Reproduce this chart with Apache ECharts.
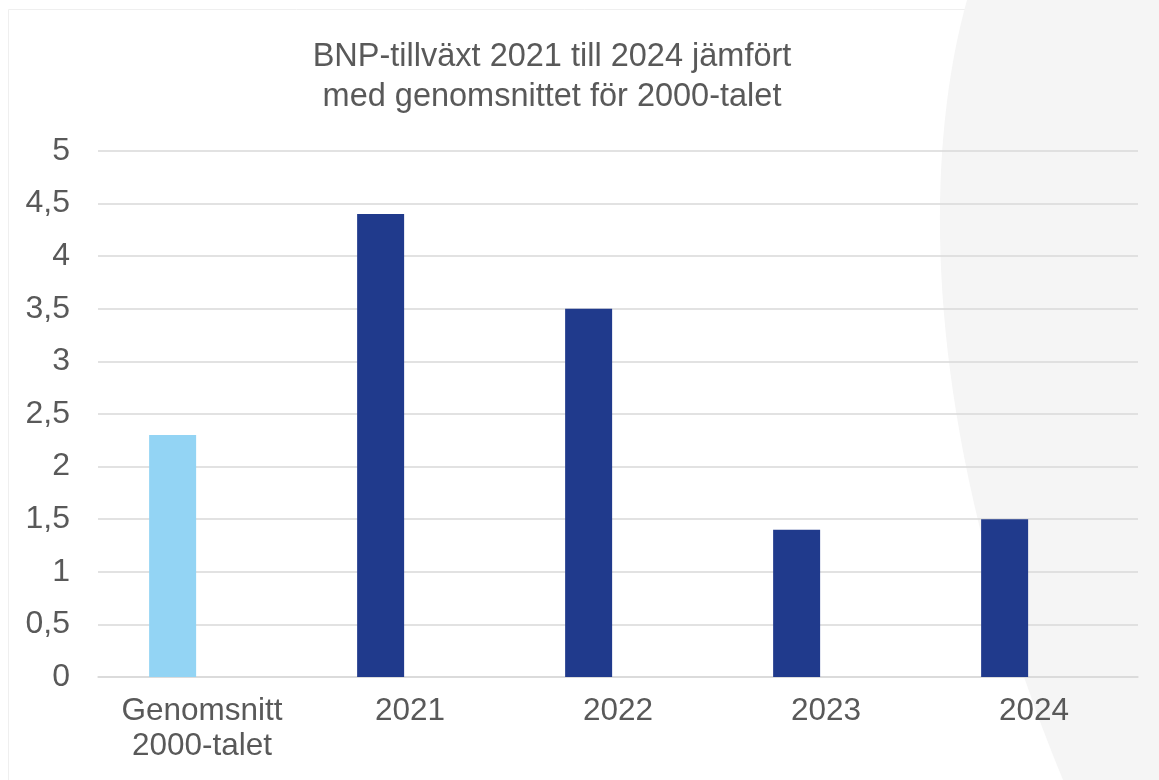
<!DOCTYPE html>
<html>
<head>
<meta charset="utf-8">
<script src="https://cdn.jsdelivr.net/npm/echarts@6/dist/echarts.min.js"></script>
<style>
  html, body { margin: 0; padding: 0; background: #fff; }
  #main { width: 1159px; height: 780px; }
</style>
</head>
<body>
<div id="main"></div>
<script>
// kategorier och värden
var categories = ['Genomsnitt\n2000-talet', '2021', '2022', '2023', '2024'];
var growth = [2.3, 4.4, 3.5, 1.4, 1.5];
var emptySeries = [null, null, null, null, null]; // tom andra serie i originalet
var yTicks = { min: 0, max: 5, step: 0.5 };

var textColor = '#595959';
var darkBlue = '#203a8c';
var lightBlue = '#93d4f4';

// grå bakgrundsform till höger (dekor)
function curvePoints() {
  var p0 = [967, 0], p1 = [925, 150], p2 = [915, 420], p3 = [1063, 780];
  var pts = [];
  for (var i = 0; i <= 40; i++) {
    var t = i / 40, u = 1 - t;
    pts.push([
      u * u * u * p0[0] + 3 * u * u * t * p1[0] + 3 * u * t * t * p2[0] + t * t * t * p3[0],
      u * u * u * p0[1] + 3 * u * u * t * p1[1] + 3 * u * t * t * p2[1] + t * t * t * p3[1]
    ]);
  }
  pts.push([1159, 780], [1159, 0]);
  return pts;
}

var chart = echarts.init(document.getElementById('main'));

var option = {
  backgroundColor: '#ffffff',
  animation: false,
  textStyle: { fontFamily: 'Liberation Sans, Arial, sans-serif' },
  graphic: [
    {
      type: 'rect',
      z: -10,
      silent: true,
      shape: { x: 8.5, y: 9.5, width: 1200, height: 800 },
      style: { fill: '#fff', stroke: '#efefef', lineWidth: 1 }
    },
    {
      type: 'polygon',
      z: -9,
      silent: true,
      shape: { points: curvePoints() },
      style: { fill: '#f5f5f5' }
    }
  ],
  title: {
    text: 'BNP-tillväxt 2021 till 2024 jämfört\nmed genomsnittet för 2000-talet',
    left: 552,
    top: 37,
    textAlign: 'center',
    padding: 0,
    textStyle: {
      fontSize: 32.5,
      fontWeight: 'normal',
      lineHeight: 40,
      color: textColor,
      fontFamily: 'Liberation Sans'
    }
  },
  grid: {
    left: 98,
    right: 21,
    top: 151,
    bottom: 103
  },
  xAxis: {
    type: 'category',
    data: categories,
    axisLine: { show: true, lineStyle: { color: '#d9d9d9', width: 1.5 } },
    axisTick: { show: false },
    axisLabel: {
      interval: 0,
      hideOverlap: false,
      margin: 17,
      fontSize: 31.5,
      lineHeight: 35,
      color: textColor,
      fontFamily: 'Liberation Sans'
    }
  },
  yAxis: {
    type: 'value',
    min: yTicks.min,
    max: yTicks.max,
    interval: yTicks.step,
    axisLine: { show: false },
    axisTick: { show: false },
    splitLine: { lineStyle: { color: '#d9d9d9', width: 1.5 } },
    axisLabel: {
      margin: 28,
      fontSize: 32,
      color: textColor,
      fontFamily: 'Liberation Sans',
      formatter: function (v) { return String(v).replace('.', ','); }
    }
  },
  series: [
    {
      name: 'BNP-tillväxt',
      type: 'bar',
      barWidth: 47,
      barGap: '25%',
      data: growth.map(function (v, i) {
        return { value: v, itemStyle: { color: i === 0 ? lightBlue : darkBlue } };
      })
    },
    {
      name: 'Tom',
      type: 'bar',
      barWidth: 47,
      data: emptySeries
    }
  ]
};

chart.setOption(option);
</script>
</body>
</html>
